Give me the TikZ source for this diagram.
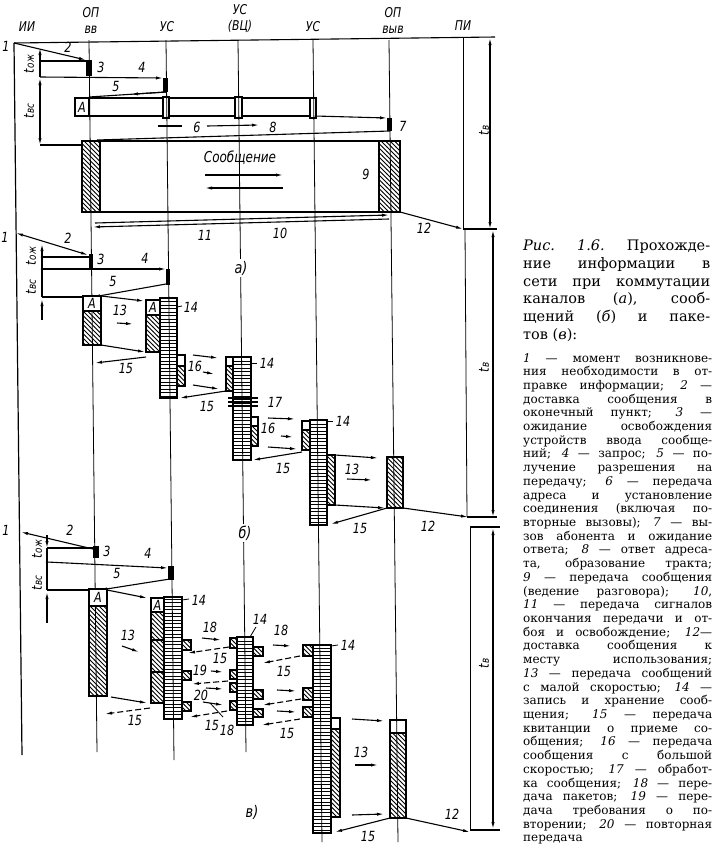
\documentclass[tikz,border=0pt]{standalone}
\usepackage{fontspec}
\setmainfont{DejaVu Serif}
\newfontfamily\lblfont{DejaVu Sans}[FakeStretch=0.8]
\usetikzlibrary{arrows.meta,patterns}
\pgfdeclarepatternformonly{myhatch}{\pgfqpoint{-1pt}{-1pt}}{\pgfqpoint{5.5pt}{5.5pt}}{\pgfqpoint{4.5pt}{4.5pt}}{\pgfsetlinewidth{0.8pt}\pgfpathmoveto{\pgfqpoint{-0.2pt}{4.7pt}}\pgfpathlineto{\pgfqpoint{4.7pt}{-0.2pt}}\pgfusepath{stroke}}
\pgfdeclarepatternformonly{myladder}{\pgfqpoint{-1pt}{-1pt}}{\pgfqpoint{101pt}{4.5pt}}{\pgfqpoint{100pt}{3.5pt}}{\pgfpathrectangle{\pgfqpoint{-1pt}{0.5pt}}{\pgfqpoint{102pt}{1.4pt}}\pgfusepath{fill}}
\tikzset{
  st/.style={line width=0.8pt},
  w/.style={line width=1.1pt},
  ar/.style={line width=1.1pt,-{Latex[length=7pt,width=3.2pt]}},
  dar/.style={line width=1.1pt,{Latex[length=7pt,width=3.2pt]}-{Latex[length=7pt,width=3.2pt]}},
  rar/.style={line width=1.1pt,{Latex[length=7pt,width=3.2pt]}-},
  bx/.style={line width=1.5pt},
  hat/.style={bx,preaction={fill=white},pattern=myhatch},
  lad/.style={bx,preaction={fill=white},pattern=myladder},
  num/.style={font=\lblfont\itshape\fontsize{14}{14}\selectfont,inner sep=0pt},
  hd/.style={font=\lblfont\itshape\fontsize{13.5}{16}\selectfont,inner sep=0pt,align=center},
  sec/.style={font=\lblfont\itshape\fontsize{16}{16}\selectfont,inner sep=2pt,fill=white},
  dsh/.style={dash pattern=on 6pt off 3pt},
  capL/.style={anchor=base west,inner sep=0pt,font=\fontsize{14.5}{14.5}\selectfont},
  capS/.style={anchor=base west,inner sep=0pt,font=\fontsize{12}{12}\selectfont},
}
\newcommand{\tsub}[1]{t\kern0.5pt{\fontsize{11}{11}\selectfont #1}}
\begin{document}
\begin{tikzpicture}[x=1pt,y=-1pt]
\fill[white] (0,0) rectangle (723,849);
\useasboundingbox (0,0) rectangle (723,849);

% ---------- header ----------
\draw[w] (14,43) -- (495,37);
\node[hd] (hII) at (27,27) {ИИ};
\node[hd] (hOP1) at (91,20) {ОП\\вв};
\node[hd] (hUS1) at (167,27) {УС};
\node[hd] (hVC) at (240,19) {УС\\(ВЦ)};
\node[hd] (hUS2) at (313,27) {УС};
\node[hd] (hOP2) at (393,20) {ОП\\выв};
\node[hd] (hPI) at (463,26) {ПИ};

% ---------- section a ----------
\node[num] (a1) at (6,46) {1};
\draw[ar] (14,43) -- (86,60);
\node[num] (a2) at (68,47) {2};
\fill (86,60) rectangle (92,76);
\node[num] (a3) at (101,67) {3};
\draw[w] (40,61) -- (86,61);
\draw[ar] (40,77) -- (163,78);
\fill (163,78) rectangle (168,92);
\node[num] (a4) at (142,67) {4};
\draw[w] (166,92) -- (89,97);
\draw[ar] (166,92) -- (131,94.3);
\node[num] (a5) at (116,86) {5};
\draw[rar] (40,48) -- (40,77);
\draw[dar] (40,78) -- (40,145);
\node[num,rotate=90] (atoz) at (29,64) {\tsub{ож}};
\node[num,rotate=90] (atvs) at (29,111) {\tsub{вс}};
% address band
\draw[bx] (75,98) rectangle (315,116);
\draw[bx] (89,98) -- (89,116);
\node[num] (aA) at (82,107) {А};
\draw[bx,fill=white] (163,97) rectangle (169,118);
\draw[bx,fill=white] (235,97) rectangle (242,118);
\draw[bx,fill=white] (310,98) rectangle (316,118);
\draw[ar] (315,116) -- (387,118);
\fill (387,118) rectangle (392,131);
\node[num] (a7) at (403,126) {7};
\draw[w] (390,131) -- (97,140);
\draw[w] (40,145) -- (82,145);
\draw[w] (158,126) -- (182,126);
\draw[ar] (207,126) -- (259,125);
\node[num] (a6) at (197,127) {6};
\node[num] (a8) at (273,127) {8};
% message block
\draw[bx] (82,141) rectangle (400,212);
\draw[hat] (82,141) rectangle (100,212);
\draw[hat] (379,141) rectangle (400,212);
\node[num,font=\lblfont\itshape\fontsize{15}{15}\selectfont] (msg) at (240,158) {Сообщение};
\draw[ar] (205,175) -- (283,175);
\draw[ar] (283,188) -- (205,188);
\node[num] (a9) at (366,174) {9};
\draw[ar] (389,219) -- (93,227);
\draw[ar] (95,223) -- (389,215);
\node[num] (a11) at (205,235) {11};
\node[num] (a10) at (280,233) {10};
\draw[ar] (400,212) -- (463,229);
\node[num] (a12) at (424,228) {12};
\draw[dar] (490,38) -- (490,229);
\draw[w] (463,229) -- (497,229);
\node[num,rotate=90] (atv) at (484,130) {\tsub{в}};

% ---------- section b ----------
\node[num] (b1) at (5,237) {1};
\draw[dar] (16,233) -- (88,255);
\node[num] (b2) at (68,238) {2};
\fill (89,254) rectangle (93,268);
\node[num] (b3) at (101,259) {3};
\draw[w] (42,257) -- (89,257);
\draw[ar] (42,269) -- (166,269);
\fill (166,269) rectangle (170,285);
\node[num] (b4) at (145,258) {4};
\draw[ar] (166,284) -- (93,297);
\node[num] (b5) at (113,281) {5};
\draw[w] (42,297) -- (83,297);
\draw[rar] (42,244) -- (42,297);
\draw[rar] (42,299) -- (42,320);
\fill (42,257) circle (1.4) (42,269) circle (1.4);
\node[num,rotate=90] (btoz) at (31,256) {\tsub{ож}};
\node[num,rotate=90] (btvs) at (31,287) {\tsub{вс}};
\draw[hat] (83,311) rectangle (101,345);
\draw[ar] (101,296) -- (144,301);
\draw[hat] (146,315) rectangle (160,352);
\draw[lad] (160,298) rectangle (177,398);
\draw[st] (177,307) -- (182,306);
\node[num] (b14a) at (191,307) {14};
\node[num] (b13) at (120,310) {13};
\draw[ar] (117,323) -- (133,324);
\draw[ar] (101,345) -- (145,352);
\draw[ar] (146,357) -- (95,363);
\node[num] (b15a) at (126,368) {15};
\draw[bx,fill=white] (177,355) rectangle (185,366);
\draw[hat] (177,366) rectangle (185,386);
\draw[ar] (193,355) -- (218,358);
\draw[ar] (203,372) -- (214,374);
\draw[ar] (193,385) -- (219,389);
\node[num] (b16a) at (195,366) {16};
\draw[bx,fill=white] (226,357) rectangle (233,366);
\draw[hat] (226,366) rectangle (233,391);
\draw[lad] (233,357) rectangle (251,460);
\draw[st] (251,363) -- (257,363);
\node[num] (b14b) at (267,363) {14};
\foreach \yy in {398,402,406} \draw[w] (228,\yy) -- (258,\yy);
\node[num] (b17) at (275,402) {17};
\draw[ar] (226,391) -- (180,398);
\node[num] (b15b) at (207,406) {15};
\draw[bx,fill=white] (251,417) rectangle (258,426);
\draw[hat] (251,426) rectangle (258,446);
\draw[ar] (268,418) -- (295,419);
\draw[ar] (281,436) -- (293,437);
\draw[ar] (268,447) -- (297,449);
\node[num] (b16b) at (268,428) {16};
\draw[bx,fill=white] (302,421) rectangle (310,430);
\draw[hat] (302,430) rectangle (310,450);
\draw[lad] (310,420) rectangle (327,525);
\draw[st] (327,421) -- (333,421);
\node[num] (b14c) at (343,421) {14};
\draw[ar] (302,452) -- (253,460);
\node[num] (b15c) at (283,468) {15};
\draw[hat] (327,455) rectangle (335,505);
\draw[ar] (335,455) -- (378,458);
\node[num] (b13b) at (352,469) {13};
\draw[ar] (347,479) -- (372,480);
\draw[ar] (335,505) -- (385,508);
\draw[hat] (387,457) rectangle (403,508);
\draw[ar] (387,508) -- (331,524);
\node[num] (b15d) at (360,528) {15};
\draw[ar] (403,508) -- (468,517);
\node[num] (b12) at (428,526) {12};
\draw[dar] (493,230) -- (493,517);
\draw[w] (467,517) -- (497,517);
\node[num,rotate=90] (btv) at (484,367) {\tsub{в}};

% ---------- section c ----------
\node[num] (c1) at (6,530) {1};
\draw[rar] (21,532) -- (93,549);
\node[num] (c2) at (70,530) {2};
\fill (93,546) rectangle (99,558);
\node[num] (c3) at (107,551) {3};
\draw[w] (47,548) -- (93,548);
\draw[ar] (47,562) -- (168,568);
\fill (168,566) rectangle (174,580);
\node[num] (c4) at (148,553) {4};
\draw[ar] (170,579) -- (100,590);
\node[num] (c5) at (117,573) {5};
\draw[w] (47,590) -- (89,590);
\draw[w,-{Latex[length=7pt,width=3.2pt]}] (47,535) -- (47,548);
\draw[w] (47,548) -- (47,590);
\draw[rar] (47,592) -- (47,623);
\fill (47,562) circle (1.4);
\node[num,rotate=90] (ctoz) at (37,549) {\tsub{ож}};
\node[num,rotate=90] (ctvs) at (37,583) {\tsub{вс}};
\draw[hat] (89,606) rectangle (107,696);
\draw[ar] (107,590) -- (147,598);
\draw[hat] (151,612) rectangle (164,703);
\draw[bx] (151,640) -- (164,640);
\draw[bx] (151,672) -- (164,672);
\draw[lad] (164,597) rectangle (182,719);
\draw[st] (182,600) -- (189,599);
\node[num] (c14a) at (199,600) {14};
\draw[hat] (182,640) rectangle (191,650);
\draw[hat] (182,671) rectangle (191,680);
\draw[hat] (182,702) rectangle (191,711);
\node[num] (c13a) at (128,635) {13};
\draw[ar] (122,646) -- (139,652);
\draw[ar] (111,697) -- (147,703);
\draw[ar,dsh] (150,708) -- (105,714);
\node[num] (c15a) at (135,720) {15};
% stack at VC
\draw[lad] (237,637) rectangle (253,725);
\draw[hat] (230,638) rectangle (237,648);
\draw[hat] (230,670) rectangle (237,679);
\draw[hat] (230,683) rectangle (237,692);
\draw[hat] (230,701) rectangle (237,710);
\draw[hat] (253,647) rectangle (263,656);
\draw[hat] (253,690) rectangle (263,699);
\draw[hat] (253,709) rectangle (263,717);
\draw[st] (256,627) -- (250,637);
\node[num] (c14b) at (260,619) {14};
% stack at US2
\draw[lad] (313,645) rectangle (331,833);
\draw[hat] (303,645) rectangle (313,656);
\draw[hat] (303,688) rectangle (313,700);
\draw[hat] (303,707) rectangle (313,717);
\draw[st] (331,646) -- (338,645);
\node[num] (c14c) at (348,645) {14};
\draw[bx,fill=white] (331,718) rectangle (340,729);
\draw[hat] (331,729) rectangle (340,817);
\draw[bx,fill=white] (390,720) rectangle (406,733);
\draw[hat] (390,733) rectangle (406,818);
\draw[ar] (352,719) -- (384,721);
\node[num] (c13b) at (361,752) {13};
\draw[ar] (355,765) -- (378,765);
\draw[ar] (352,815) -- (384,814);
\draw[ar] (390,818) -- (335,832);
\node[num] (c15z) at (368,836) {15};
\draw[ar] (406,818) -- (470,832);
\node[num] (c12) at (452,814) {12};
\draw[w] (470,527) -- (500,527);
\draw[w] (470,830) -- (500,830);
\draw[dar] (493,528) -- (493,829);
\node[num,rotate=90] (ctv) at (484,663) {\tsub{в}};
% packet arrows left
\node[num] (c18a) at (210,627) {18};
\draw[ar] (202,638) -- (221,640);
\draw[ar,dsh] (229,647) -- (188,653);
\node[num] (c15b) at (220,658) {15};
\node[num] (c19) at (200,670) {19};
\draw[ar] (211,671) -- (223,672);
\draw[ar,dsh] (228,681) -- (192,684);
\draw[ar] (206,688) -- (223,689);
\node[num] (c20) at (201,695) {20};
\draw[ar] (203,702) -- (223,705);
\draw[st] (210,703) -- (223,717);
\node[num] (c18b) at (227,730) {18};
\node[num] (c15c) at (212,725) {15};
\draw[ar,dsh] (227,711) -- (190,717);
% packet arrows right
\node[num] (c18c) at (281,630) {18};
\draw[ar] (273,645) -- (291,646);
\draw[ar,dsh] (300,656) -- (263,663);
\node[num] (c15d) at (284,671) {15};
\draw[ar] (277,690) -- (296,691);
\draw[ar,dsh] (301,699) -- (263,705);
\draw[ar] (277,711) -- (296,712);
\draw[ar,dsh] (300,719) -- (262,725);
\node[num] (c15e) at (287,733) {15};

% ---------- station lines ----------
\draw[line width=1.2pt] (14,43) -- (22,755);
\draw[st] (89,40) -- (97,752);
\draw[st] (166,40) -- (174,760);
\draw[st] (238,40) -- (246,752);
\draw[st] (313,40) -- (322,842);
\draw[st] (389,40) -- (398,842);
\draw[st] (463,37) -- (463,229);
\draw[st] (465,229) -- (467,517);
\draw[st] (470,527) -- (470,830);

% A boxes on top of lines
\draw[bx,fill=white] (83,296) rectangle (101,311);
\node[num] (bA1) at (92,303.5) {А};
\draw[bx,fill=white] (146,300) rectangle (160,315);
\node[num] (bA2) at (153,307.5) {А};
\draw[bx,fill=white] (89,589) rectangle (107,606);
\node[num] (cA1) at (98,597.5) {А};
\draw[bx,fill=white] (151,598) rectangle (164,612);
\node[num] (cA2) at (157.5,605) {А};

% section labels
\node[sec] (la) at (241,268) {а)};
\node[sec] (lb) at (245,533) {б)};
\node[sec] (lc) at (252,812) {в)};

% ---------- caption ----------
\node[capL] (k1) at (523,250) {\makebox[187pt][s]{\textit{Рис. 1.6.} Прохожде-}};
\node[capL] (k2) at (523,268) {\makebox[187pt][s]{ние информации в}};
\node[capL] (k3) at (523,286) {\makebox[187pt][s]{сети при коммутации}};
\node[capL] (k4) at (523,303) {\makebox[187pt][s]{каналов (\textit{а}), сооб-}};
\node[capL] (k5) at (523,321) {\makebox[187pt][s]{щений (\textit{б}) и паке-}};
\node[capL] (k6) at (523,339) {тов (\textit{в}):};
\foreach \t [count=\i from 0] in {
{\textit{1} — момент возникнове-},
{ния необходимости в от-},
{правке информации; \textit{2} —},
{доставка сообщения в},
{оконечный пункт; \textit{3} —},
{ожидание освобождения},
{устройств ввода сообще-},
{ний; \textit{4} — запрос; \textit{5} — по-},
{лучение разрешения на},
{передачу; \textit{6} — передача},
{адреса и установление},
{соединения (включая по-},
{вторные вызовы); \textit{7} — вы-},
{зов абонента и ожидание},
{ответа; \textit{8} — ответ адреса-},
{та, образование тракта;},
{\textit{9} — передача сообщения},
{(ведение разговора); \textit{10},},
{\textit{11} — передача сигналов},
{окончания передачи и от-},
{боя и освобождение; \textit{12}—},
{доставка сообщения к},
{месту использования;},
{\textit{13} — передача сообщений},
{с малой скоростью; \textit{14} —},
{запись и хранение сооб-},
{щения; \textit{15} — передача},
{квитанции о приеме со-},
{общения; \textit{16} — передача},
{сообщения с большой},
{скоростью; \textit{17} — обработ-},
{ка сообщения; \textit{18} — пере-},
{дача пакетов; \textit{19} — пере-},
{дача требования о по-},
{вторении; \textit{20} — повторная}}
  \node[capS] (s\i) at (523,362+13.71*\i) {\makebox[189pt][s]{\t}};
\node[capS] (slast) at (523,362+13.71*35) {передача};
\end{tikzpicture}
\end{document}
